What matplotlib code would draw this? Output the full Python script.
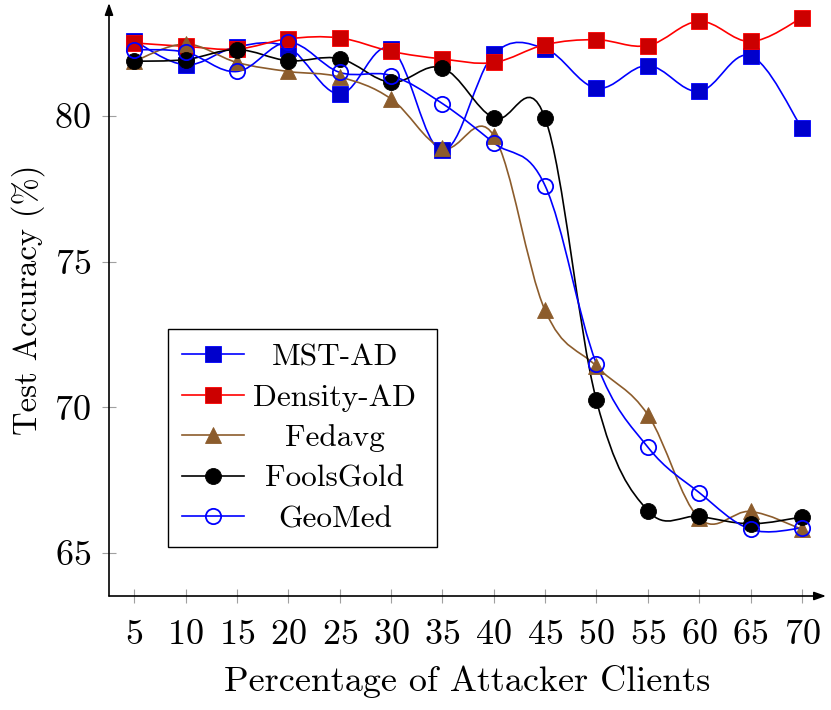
import numpy as np
import matplotlib
matplotlib.use('Agg')
import matplotlib.pyplot as plt
from matplotlib.path import Path
from matplotlib.patches import PathPatch
from matplotlib.lines import Line2D

# percentage of attacker clients
attackers = [5, 10, 15, 20, 25, 30, 35, 40, 45, 50, 55, 60, 65, 70]

# test accuracy (%) per method
mst_ad = [82.58, 81.76, 82.38, 82.35, 80.76, 82.31, 78.82, 82.12, 82.31,
          80.96, 81.73, 80.85, 82.07, 79.59]
density_ad = [82.51, 82.39, 82.30, 82.65, 82.68, 82.22, 81.96, 81.84, 82.45,
              82.62, 82.42, 83.25, 82.56, 83.37]
fedavg = [81.88, 82.47, 81.84, 81.53, 81.34, 80.59, 78.90, 79.33, 73.33,
          71.41, 69.75, 66.20, 66.43, 65.82]
foolsgold = [81.88, 81.94, 82.28, 81.90, 81.97, 81.16, 81.65, 79.93, 79.93,
             70.24, 66.46, 66.26, 66.01, 66.24]
geomed = [82.28, 82.19, 81.53, 82.53, 81.50, 81.39, 80.43, 79.08, 77.61,
          71.50, 68.64, 67.08, 65.82, 65.86]

plt.rcParams['font.family'] = 'cmr10'
plt.rcParams['mathtext.fontset'] = 'cm'
plt.rcParams['axes.formatter.use_mathtext'] = True

FS = 26
LEG_FS = 22.6


def smooth_path(xs, ys, k=0.18):
    # tikz-like "smooth" curve through the points
    p = np.column_stack([xs, ys]).astype(float)
    n = len(p)
    verts = [p[0]]
    codes = [Path.MOVETO]
    for i in range(n - 1):
        prev = p[max(i - 1, 0)]
        nxt = p[min(i + 2, n - 1)]
        c1 = p[i] + k * (p[i + 1] - prev)
        c2 = p[i + 1] - k * (nxt - p[i])
        verts += [c1, c2, p[i + 1]]
        codes += [Path.CURVE4] * 3
    return Path(verts, codes)


fig = plt.figure(figsize=(8.31, 7.10), dpi=100)
ax = fig.add_axes([109 / 831, 114 / 710, (826 - 109) / 831, (596 - 3) / 710])

series = [
    ('MST-AD', mst_ad, '#0000ff', dict(marker='s', ms=11.5, mfc='#0000cc', mec='#0000ff', mew=0.6)),
    ('Density-AD', density_ad, '#ff0000', dict(marker='s', ms=11.5, mfc='#cc0000', mec='#ff0000', mew=0.6)),
    ('Fedavg', fedavg, '#8c5c2c', dict(marker='^', ms=11.5, mfc='#8c5c2c', mec='#8c5c2c', mew=0.6)),
    ('FoolsGold', foolsgold, 'black', dict(marker='o', ms=11.5, mfc='black', mec='black', mew=0.6)),
    ('GeoMed', geomed, '#0000ff', dict(marker='o', ms=11, mfc='none', mec='#0000ff', mew=1.3)),
]

handles = []
for name, vals, col, mk in series:
    ax.add_patch(PathPatch(smooth_path(attackers, vals), fill=False,
                           edgecolor=col, lw=1.2))
    ax.plot(attackers, vals, ls='none', **mk)
    handles.append(Line2D([], [], color=col, lw=1.2, label=name, **mk))

ax.set_xlim(2.54, 72.35)
ax.set_ylim(63.53, 83.88)
ax.set_xticks(attackers)
ax.set_yticks([65, 70, 75, 80])
ax.tick_params(direction='inout', length=10, width=0.8, color='#a0a0a0',
               labelsize=FS, labelcolor='black')
ax.tick_params(axis='x', pad=12)
ax.tick_params(axis='y', pad=8)
for s in ax.spines.values():
    s.set_visible(False)

# axis lines with arrow heads
arrow = dict(arrowstyle='-|>,head_length=0.7,head_width=0.25', color='black',
             lw=1.2, shrinkA=0, shrinkB=0)
ax.annotate('', xy=(1, 0), xytext=(0, 0), xycoords='axes fraction', arrowprops=arrow)
ax.annotate('', xy=(0, 1), xytext=(0, 0), xycoords='axes fraction', arrowprops=arrow)

ax.set_xlabel('Percentage of Attacker Clients', fontsize=FS, labelpad=10)
ax.set_ylabel('Test Accuracy (%)', fontsize=23.5, labelpad=7)

leg = ax.legend(handles=handles, loc='upper left',
                bbox_to_anchor=(168 / 831, 1 - 329 / 710),
                bbox_transform=fig.transFigure, fontsize=LEG_FS, frameon=True,
                fancybox=False, framealpha=1, edgecolor='black',
                handlelength=1.97, labelspacing=0.40, borderpad=0.45,
                handletextpad=0.52, borderaxespad=0)
leg.get_frame().set_linewidth(1.0)

# center the legend texts like pgfplots does
fig.canvas.draw()
r = fig.canvas.get_renderer()
widths = [t.get_window_extent(r).width for t in leg.get_texts()]
wmax = max(widths)
shift = -0.22 * LEG_FS * 100 / 72
for t, w in zip(leg.get_texts(), widths):
    t.set_position(((wmax - w) / 2 + shift, 0))

fig.savefig('out.png', dpi=100)
